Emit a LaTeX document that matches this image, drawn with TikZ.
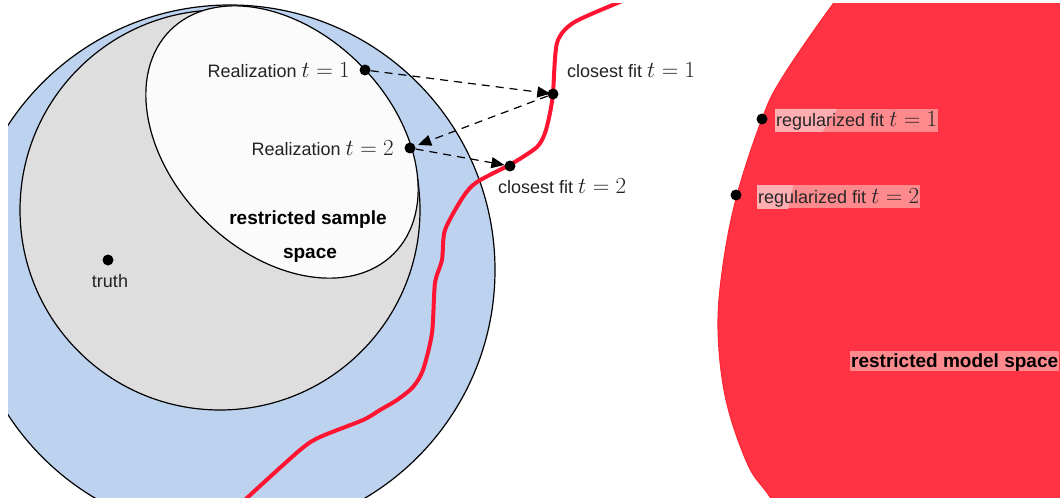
\documentclass[tikz,border=0pt]{standalone}
\usepackage{graphicx}
\usepackage{fontspec}
\setmainfont{Liberation Sans}
\usetikzlibrary{arrows.meta}
\definecolor{bluefill}{RGB}{189,210,239}
\definecolor{grayfill}{RGB}{222,222,222}
\definecolor{whitefill}{RGB}{251,251,251}
\definecolor{modelred}{RGB}{255,51,68}
\definecolor{modeledge}{RGB}{255,38,48}
\definecolor{curvered}{RGB}{255,20,50}
\definecolor{pinkbox}{RGB}{255,138,142}
\definecolor{pinklight}{RGB}{255,174,178}
\definecolor{txt}{RGB}{34,34,34}
\newcommand{\mymath}[1]{\scalebox{1.11}{\fontsize{20.74}{25}\selectfont$#1$}}
\begin{document}
\begin{tikzpicture}[x=1pt,y=-1pt,
  outline/.style={draw=black,line width=1.2pt},
  dotnode/.style={circle,fill=black,inner sep=0pt,minimum size=11pt},
  lbl/.style={inner sep=0pt,text=txt,font=\fontsize{18}{22}\selectfont},
  boldlbl/.style={inner sep=0pt,text=black,font=\fontsize{19}{23}\selectfont\bfseries},
  arr/.style={dash pattern=on 8pt off 6pt,line width=1.2pt,-{Triangle[length=13pt,width=11pt]}},
  pinklbl/.style={fill=pinkbox,text=black!85,inner xsep=1pt,inner ysep=2pt,text height=16pt,text depth=3pt,font=\fontsize{18}{22}\selectfont}
]
\useasboundingbox (0,0) rectangle (1060,500);
\begin{scope}
\clip (8,4) rectangle (1060,497);
\fill[modelred] plot[smooth,tension=0.6] coordinates {(870,-40) (833,4) (782,78) (762,119) (737,195) (723,265) (718,330) (726,400) (748,465) (770,497) (795,540)} -- (1100,540) -- (1100,-40) -- cycle;
\draw[modeledge,line width=1pt] plot[smooth,tension=0.6] coordinates {(870,-40) (833,4) (782,78) (762,119) (737,195) (723,265) (718,330) (726,400) (748,465) (770,497) (795,540)};
\draw[outline,fill=bluefill] (230,270) circle[radius=265pt];
\draw[outline,fill=grayfill] (220,210) circle[radius=200pt];
\draw[outline,fill=whitefill,shift={(282,142)},rotate=-45] (0,0) ellipse[x radius=158pt,y radius=110pt];
\draw[curvered,line width=4pt,line cap=round,line join=round] plot[smooth,tension=0.45] coordinates {(640,-6) (615,4) (573,23) (557,43) (553,93) (550,113) (545,133) (537,147) (513,163) (477,182) (463,197) (445,230) (442,260) (435,283) (432,333) (423,370) (413,387) (397,400) (380,410) (363,420) (320,437) (300,450) (248,497) (238,507)};
\end{scope}

\node[dotnode] (r1) at (365,70) {};
\node[dotnode] (r2) at (410,148) {};
\node[dotnode] (c1) at (553,94) {};
\node[dotnode] (c2) at (510,166) {};
\node[dotnode] (tr) at (108,260) {};
\node[dotnode] (g1) at (762,119) {};
\node[dotnode] (g2) at (736,195) {};

\draw[arr,shorten >=-3pt] (r1) -- (c1);
\draw[arr,shorten >=3pt] (c1) -- (r2);
\draw[arr] (r2) -- (c2);

\node[lbl,anchor=base east] (r1l) at (350,78) {Realization \mymath{t=1}};
\node[lbl,anchor=base east] (r2l) at (394,155) {Realization \mymath{t=2}};
\node[lbl,anchor=base west] (c1l) at (567,78) {closest fit \mymath{t=1}};
\node[lbl,anchor=base west] (c2l) at (498,193) {closest fit \mymath{t=2}};
\node[lbl,anchor=base] (trl) at (110,287) {truth};
\node[boldlbl,anchor=base] (rss1) at (308,224) {restricted sample};
\node[boldlbl,anchor=base] (rss2) at (310,258) {space};

\node[pinklbl,anchor=base west,path picture={\fill[pinklight] (path picture bounding box.north west) -- ++(62pt,0pt) -- ++(-26pt,-40pt) -- ++(-60pt,0pt) -- cycle;}] (g1l) at (775,127) {regularized fit \mymath{t=1}};
\node[pinklbl,anchor=base west,path picture={\fill[pinklight] (path picture bounding box.north west) -- ++(36pt,0pt) -- ++(-8pt,-40pt) -- ++(-60pt,0pt) -- cycle;}] (g2l) at (757,203) {regularized fit \mymath{t=2}};
\node[pinklbl,anchor=base west,text height=14pt,text depth=2pt,font=\fontsize{19}{23}\selectfont\bfseries,text=black] (rms) at (850,367) {restricted model space};
\end{tikzpicture}
\end{document}
